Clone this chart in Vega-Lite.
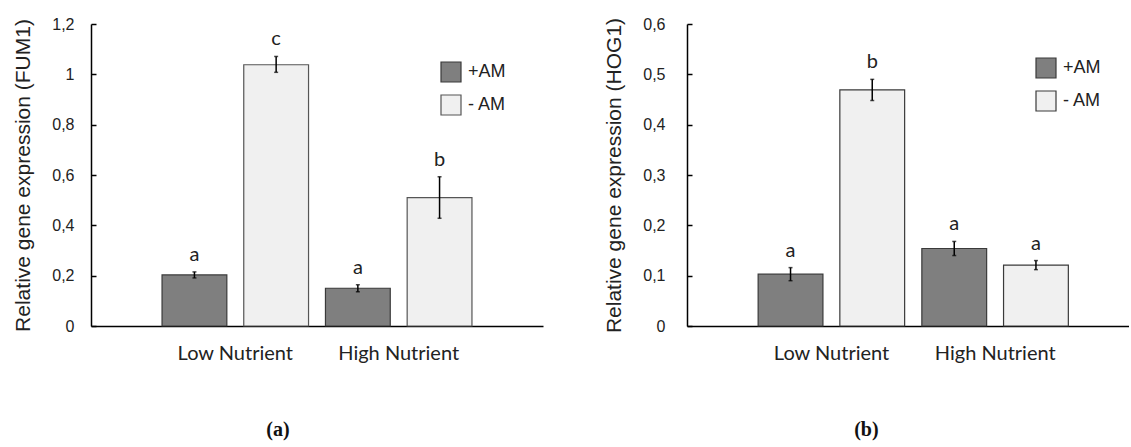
{
  "$schema": "https://vega.github.io/schema/vega-lite/v6.json",
  "background": "white",
  "padding": {"left": 12, "top": 16, "right": 0, "bottom": 4},
  "spacing": 60,
  "config": {
    "view": {"stroke": null},
    "axisY": {"domainColor": "black", "domainWidth": 1.5, "tickColor": "black", "tickWidth": 1.5, "tickSize": -5, "grid": false, "labelFont": "Liberation Sans", "labelFontSize": 16, "labelColor": "#222", "labelPadding": 22, "titleFont": "Liberation Sans", "titleFontSize": 21, "titleFontWeight": "normal", "titleColor": "#222", "titlePadding": 18},
    "axisX": {"ticks": false, "labelFont": "Lato", "labelFontSize": 20, "labelPadding": 17, "labelAngle": 0, "labelColor": "#222", "domainColor": "black", "domainWidth": 1.5, "title": null}
  },
  "resolve": {"scale": {"fill": "independent", "stroke": "independent", "y": "independent"}, "legend": {"fill": "independent", "stroke": "independent"}},
  "hconcat": [
    {
      "width": 452,
      "height": 302,
      "title": {"text": "(a)", "orient": "bottom", "frame": "bounds", "anchor": "middle", "font": "Liberation Serif", "fontSize": 20, "fontWeight": "bold", "color": "#111", "offset": 57},
      "data": {"values": [
        {"group": "Low Nutrient", "treatment": "+AM", "mean": 0.203, "lo": 0.191, "hi": 0.215, "letter": "a"},
        {"group": "Low Nutrient", "treatment": "- AM", "mean": 1.038, "lo": 1.008, "hi": 1.071, "letter": "c"},
        {"group": "High Nutrient", "treatment": "+AM", "mean": 0.150, "lo": 0.136, "hi": 0.164, "letter": "a"},
        {"group": "High Nutrient", "treatment": "- AM", "mean": 0.510, "lo": 0.428, "hi": 0.593, "letter": "b"}
      ]},
      "encoding": {
        "x": {"field": "group", "type": "nominal", "sort": ["Low Nutrient", "High Nutrient"], "scale": {"paddingInner": 0, "paddingOuter": 0.383, "align": 0.5}},
        "xOffset": {"field": "treatment", "type": "nominal", "sort": ["+AM", "- AM"], "scale": {"paddingInner": 0.207, "paddingOuter": 0.1035}}
      },
      "layer": [
        {
          "mark": {"type": "bar", "strokeWidth": 1.2},
          "encoding": {
            "y": {"field": "mean", "type": "quantitative", "scale": {"domain": [0, 1.2]}, "axis": {"values": [0, 0.2, 0.4, 0.6, 0.8, 1, 1.2], "labelExpr": "replace(format(datum.value, '~g'), '.', ',')", "title": "Relative gene expression (FUM1)"}},
            "fill": {"field": "treatment", "type": "nominal", "sort": ["+AM", "- AM"], "scale": {"domain": ["+AM", "- AM"], "range": ["#7f7f7f", "#f0f0f0"]}, "legend": {"orient": "none", "legendX": 349, "legendY": 37, "title": null, "symbolType": "square", "symbolSize": 400, "labelFont": "Liberation Sans", "labelFontSize": 18, "labelColor": "#222", "rowPadding": 7, "labelOffset": 6, "symbolStrokeWidth": 1.2, "padding": 0}},
            "stroke": {"field": "treatment", "type": "nominal", "sort": ["+AM", "- AM"], "scale": {"domain": ["+AM", "- AM"], "range": ["#3a3a3a", "#555555"]}}
          }
        },
        {
          "mark": {"type": "rule", "color": "black", "strokeWidth": 1.5},
          "encoding": {"y": {"field": "lo", "type": "quantitative"}, "y2": {"field": "hi"}}
        },
        {
          "mark": {"type": "tick", "color": "black", "size": 4, "thickness": 1.5},
          "encoding": {"y": {"field": "lo", "type": "quantitative"}}
        },
        {
          "mark": {"type": "tick", "color": "black", "size": 4, "thickness": 1.5},
          "encoding": {"y": {"field": "hi", "type": "quantitative"}}
        },
        {
          "mark": {"type": "text", "font": "Lato", "fontSize": 20, "color": "#222", "baseline": "alphabetic", "dy": -11},
          "encoding": {"y": {"field": "hi", "type": "quantitative"}, "text": {"field": "letter"}}
        }
      ]
    },
    {
      "width": 442,
      "height": 302,
      "title": {"text": "(b)", "orient": "bottom", "frame": "bounds", "anchor": "middle", "font": "Liberation Serif", "fontSize": 20, "fontWeight": "bold", "color": "#111", "offset": 57},
      "data": {"values": [
        {"group": "Low Nutrient", "treatment": "+AM", "mean": 0.103, "lo": 0.090, "hi": 0.116, "letter": "a"},
        {"group": "Low Nutrient", "treatment": "- AM", "mean": 0.469, "lo": 0.448, "hi": 0.490, "letter": "b"},
        {"group": "High Nutrient", "treatment": "+AM", "mean": 0.154, "lo": 0.140, "hi": 0.168, "letter": "a"},
        {"group": "High Nutrient", "treatment": "- AM", "mean": 0.121, "lo": 0.112, "hi": 0.130, "letter": "a"}
      ]},
      "encoding": {
        "x": {"field": "group", "type": "nominal", "sort": ["Low Nutrient", "High Nutrient"], "scale": {"paddingInner": 0, "paddingOuter": 0.35, "align": 0.547}},
        "xOffset": {"field": "treatment", "type": "nominal", "sort": ["+AM", "- AM"], "scale": {"paddingInner": 0.207, "paddingOuter": 0.1035}}
      },
      "layer": [
        {
          "mark": {"type": "bar", "strokeWidth": 1.2},
          "encoding": {
            "y": {"field": "mean", "type": "quantitative", "scale": {"domain": [0, 0.6]}, "axis": {"values": [0, 0.1, 0.2, 0.3, 0.4, 0.5, 0.6], "labelExpr": "replace(format(datum.value, '~g'), '.', ',')", "labelPadding": 27, "title": "Relative gene expression (HOG1)"}},
            "fill": {"field": "treatment", "type": "nominal", "sort": ["+AM", "- AM"], "scale": {"domain": ["+AM", "- AM"], "range": ["#7f7f7f", "#f0f0f0"]}, "legend": {"orient": "none", "legendX": 348, "legendY": 33, "title": null, "symbolType": "square", "symbolSize": 400, "labelFont": "Liberation Sans", "labelFontSize": 18, "labelColor": "#222", "rowPadding": 7, "labelOffset": 6, "symbolStrokeWidth": 1.2, "padding": 0}},
            "stroke": {"field": "treatment", "type": "nominal", "sort": ["+AM", "- AM"], "scale": {"domain": ["+AM", "- AM"], "range": ["#3a3a3a", "#3a3a3a"]}}
          }
        },
        {
          "mark": {"type": "rule", "color": "black", "strokeWidth": 1.5},
          "encoding": {"y": {"field": "lo", "type": "quantitative"}, "y2": {"field": "hi"}}
        },
        {
          "mark": {"type": "tick", "color": "black", "size": 4, "thickness": 1.5},
          "encoding": {"y": {"field": "lo", "type": "quantitative"}}
        },
        {
          "mark": {"type": "tick", "color": "black", "size": 4, "thickness": 1.5},
          "encoding": {"y": {"field": "hi", "type": "quantitative"}}
        },
        {
          "mark": {"type": "text", "font": "Lato", "fontSize": 20, "color": "#222", "baseline": "alphabetic", "dy": -11},
          "encoding": {"y": {"field": "hi", "type": "quantitative"}, "text": {"field": "letter"}}
        }
      ]
    }
  ]
}
